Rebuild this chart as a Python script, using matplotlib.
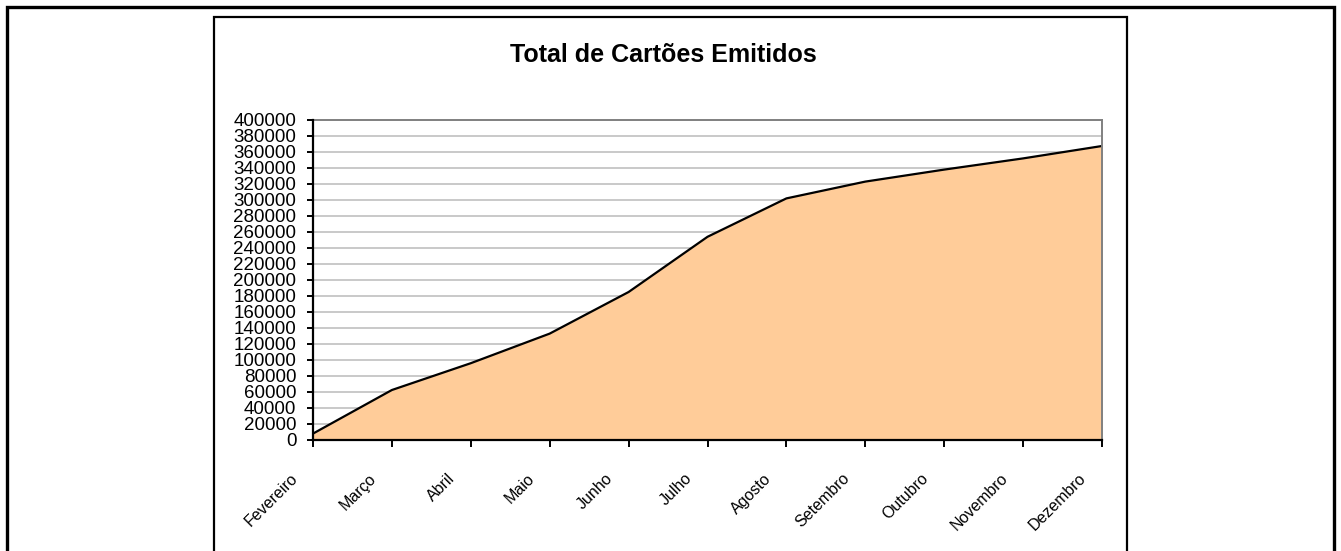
import matplotlib
matplotlib.use("Agg")
from matplotlib import pyplot as plt
from matplotlib.patches import Rectangle
from matplotlib.transforms import ScaledTranslation

plt.rcParams["font.family"] = ["Liberation Sans", "DejaVu Sans"]

months = ["Fevereiro", "Março", "Abril", "Maio", "Junho", "Julho",
          "Agosto", "Setembro", "Outubro", "Novembro", "Dezembro"]
cards = [8000, 62500, 96000, 133000, 185000, 254000,
         302000, 323000, 338000, 352000, 367500]
y_ticks = list(range(0, 400001, 20000))

W, H = 1341, 551
fig = plt.figure(figsize=(W / 100, H / 100), dpi=100)

# outer and inner frames (bottom edges run off the image)
fig.patches.append(Rectangle((7 / W, -0.1), 1327 / W, 1.1 - 6.5 / H,
                             transform=fig.transFigure, fill=False,
                             edgecolor="black", linewidth=2.4))
fig.patches.append(Rectangle((213.5 / W, -0.1), 913 / W, 1.1 - 16.5 / H,
                             transform=fig.transFigure, fill=False,
                             edgecolor="black", linewidth=1.6))

ax = fig.add_axes([313 / W, 1 - 440 / H, 789 / W, 320 / H])
x = list(range(len(months)))
ax.fill_between(x, cards, 0, color="#FFCC99", zorder=2)
ax.plot(x, cards, color="black", linewidth=1.6, zorder=3)

ax.set_xlim(0, len(months) - 1)
ax.set_ylim(0, 400000)
ax.set_yticks(y_ticks)
ax.set_yticklabels([str(v) for v in y_ticks], fontsize=13.5)
ax.set_xticks(x)
ax.set_xticklabels(months, fontsize=11.5, rotation=45, ha="right",
                   va="center", rotation_mode="anchor")
ax.tick_params(axis="y", length=4, width=1.4, pad=8)
ax.tick_params(axis="x", length=5, width=1.4, pad=21)
shift = ScaledTranslation(-18 / 100, 0, fig.dpi_scale_trans)
for lbl in ax.get_xticklabels():
    lbl.set_transform(lbl.get_transform() + shift)
ax.grid(axis="y", color="#c0c0c0", linewidth=1.2, zorder=1)
ax.set_axisbelow(True)

for side in ("top", "right"):
    ax.spines[side].set_color("#808080")
    ax.spines[side].set_linewidth(1.4)
    ax.spines[side].set_zorder(4)
for side in ("left", "bottom"):
    ax.spines[side].set_color("black")
    ax.spines[side].set_linewidth(1.6)
    ax.spines[side].set_zorder(5)

fig.text(663 / W, 1 - 55 / H, "Total de Cartões Emitidos", fontsize=18,
         fontweight="bold", ha="center", va="center")

fig.savefig("out.png", dpi=100)
